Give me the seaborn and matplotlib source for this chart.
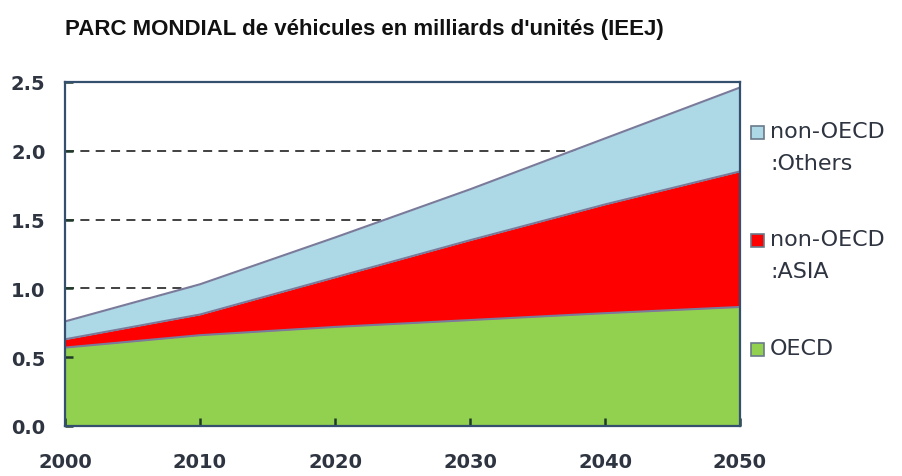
import matplotlib
matplotlib.use("Agg")
import matplotlib.pyplot as plt
import seaborn as sns
import pandas as pd
from matplotlib.patches import Rectangle

years = [2000, 2010, 2020, 2030, 2040, 2050]
oecd = [0.57, 0.66, 0.72, 0.77, 0.82, 0.865]
asia = [0.06, 0.15, 0.36, 0.58, 0.79, 0.985]
others = [0.13, 0.22, 0.29, 0.37, 0.48, 0.61]
series_names = ["non-OECD\n:Others", "non-OECD\n:ASIA", "OECD"]
yticks = [0.0, 0.5, 1.0, 1.5, 2.0, 2.5]
title = "PARC MONDIAL de véhicules en milliards d'unités (IEEJ)"

sns.set_style("white")
plt.rcParams["font.family"] = ["DejaVu Sans"]

df = pd.DataFrame({"year": years, "oecd": oecd, "asia": asia, "others": others})
df["l1"] = df["oecd"]
df["l2"] = df["oecd"] + df["asia"]
df["l3"] = df["l2"] + df["others"]

fig = plt.figure(figsize=(9.03, 4.77), dpi=100)
ax = fig.add_axes([65/903, 1-427/477, 675/903, 344/477])
ax.set_axisbelow(False)

c_green, c_red, c_blue = "#92D050", "#FF0000", "#ADD8E6"
edge = "#7A7A9A"

for yv in [0.5, 1.0, 1.5, 2.0]:
    ax.axhline(yv, color="#333333", lw=1.3, ls=(0, (5, 3.5)), zorder=0)

ax.fill_between(df["year"], 0, df["l1"], color=c_green, lw=0, zorder=1)
ax.fill_between(df["year"], df["l1"], df["l2"], color=c_red, lw=0, zorder=1)
ax.fill_between(df["year"], df["l2"], df["l3"], color=c_blue, lw=0, zorder=1)
for col in ["l1", "l2", "l3"]:
    sns.lineplot(data=df, x="year", y=col, ax=ax, color=edge, lw=1.5, zorder=2)

ax.set_xlim(2000, 2050)
ax.set_ylim(0, 2.5)
ax.set_xticks(years)
ax.set_yticks(yticks)
ax.set_yticklabels([f"{v:.1f}" for v in yticks])
ax.set_xlabel("")
ax.set_ylabel("")
for s in ax.spines.values():
    s.set_color("#34506E")
    s.set_linewidth(1.6)
    s.set_zorder(3)
ax.tick_params(axis="x", bottom=True, direction="in", length=6, width=1.8,
               color="#1F3A2A", pad=19, labelsize=14, labelcolor="#2E3440")
ax.tick_params(axis="y", left=True, direction="in", length=6, width=1.8,
               color="#1F3A2A", pad=14, labelsize=14, labelcolor="#2E3440")
for lab in ax.get_xticklabels() + ax.get_yticklabels():
    lab.set_fontweight("bold")

fig.text(65/903, 1-29/477, title, fontsize=16, fontweight="bold",
         family="Liberation Sans", va="center", ha="left", color="#111111")

legend_items = [(series_names[0], c_blue, 133), (series_names[1], c_red, 241),
                (series_names[2], c_green, 350)]
for name, col, ypx in legend_items:
    fig.patches.append(Rectangle((751/903, 1-(ypx+7)/477), 13/903, 13/477,
                                 transform=fig.transFigure, facecolor=col,
                                 edgecolor="#6A7A8A", lw=1.2))
    fig.text(770/903, 1-(ypx-11)/477, name, fontsize=16, va="top", ha="left",
             color="#2E3440", linespacing=1.75)

fig.savefig("out.png", dpi=100)
